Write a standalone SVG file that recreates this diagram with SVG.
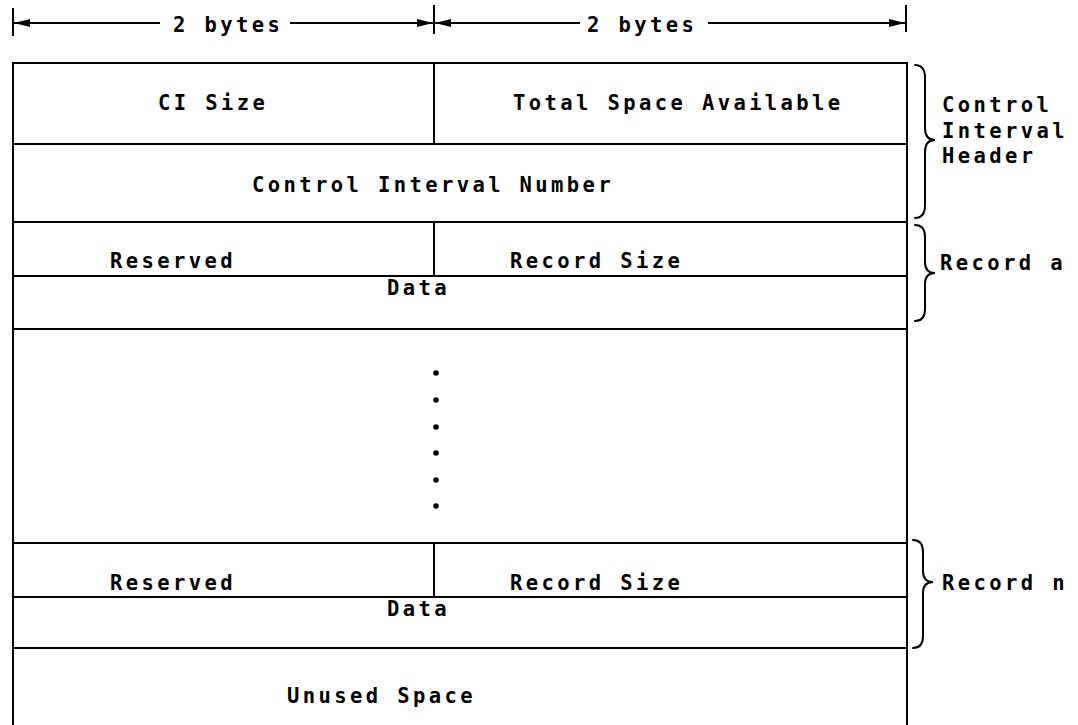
<svg xmlns="http://www.w3.org/2000/svg" width="1078" height="725" viewBox="0 0 1078 725">
  <defs>
    <marker id="arrow" viewBox="0 0 16 10" refX="16" refY="5" markerWidth="16" markerHeight="10" markerUnits="userSpaceOnUse" orient="auto-start-reverse">
      <path d="M0,1 L16,5 L0,9 Z" fill="#000"/>
    </marker>
    <style>
      .ln { stroke: #000; stroke-width: 2; fill: none; }
      .br { stroke: #000; stroke-width: 2; fill: none; stroke-linecap: round; }
      .dim { stroke: #000; stroke-width: 2; fill: none; }
      text { font-family: "DejaVu Sans Mono", "Liberation Mono", monospace; font-size: 20.5px; font-weight: bold; letter-spacing: 3.4px; fill: #000; }
      .dot { fill: #000; }
    </style>
  </defs>
  <rect width="1078" height="725" fill="#fff"/>

  <!-- width dimension across the two 2-byte fields -->
  <g id="dimension">
    <line class="dim" x1="13" y1="8" x2="13" y2="36"/>
    <line class="dim" x1="434" y1="5" x2="434" y2="34"/>
    <line class="dim" x1="906" y1="5" x2="906" y2="32"/>
    <line class="dim" x1="14" y1="23" x2="160" y2="23" marker-start="url(#arrow)"/>
    <line class="dim" x1="290" y1="23" x2="433" y2="23" marker-end="url(#arrow)"/>
    <line class="dim" x1="435" y1="23" x2="580" y2="23" marker-start="url(#arrow)"/>
    <line class="dim" x1="708" y1="23" x2="905" y2="23" marker-end="url(#arrow)"/>
    <text x="173" y="32">2 bytes</text>
    <text x="587" y="32">2 bytes</text>
  </g>

  <!-- outer frame and row separators -->
  <g id="frame">
    <path class="ln" d="M13,725 L13,63 L907,63 L907,725"/>
    <line class="ln" x1="13" y1="144" x2="907" y2="144"/>
    <line class="ln" x1="13" y1="222" x2="907" y2="222"/>
    <line class="ln" x1="13" y1="276" x2="907" y2="276"/>
    <line class="ln" x1="13" y1="329" x2="907" y2="329"/>
    <line class="ln" x1="13" y1="543" x2="907" y2="543"/>
    <line class="ln" x1="13" y1="597" x2="907" y2="597"/>
    <line class="ln" x1="13" y1="648" x2="907" y2="648"/>
    <line class="ln" x1="434" y1="63" x2="434" y2="144"/>
    <line class="ln" x1="434" y1="222" x2="434" y2="276"/>
    <line class="ln" x1="434" y1="543" x2="434" y2="597"/>
  </g>

  <g id="ci-size"><text x="158" y="110">CI Size</text></g>
  <g id="total-space"><text x="513" y="110">Total Space Available</text></g>
  <g id="ci-number"><text x="252" y="192">Control Interval Number</text></g>

  <g id="record-a">
    <text x="110" y="268">Reserved</text>
    <text x="510" y="268">Record Size</text>
    <text x="387" y="295">Data</text>
  </g>

  <!-- ellipsis between records -->
  <g id="ellipsis">
    <circle class="dot" cx="436" cy="373" r="2.8"/>
    <circle class="dot" cx="436" cy="400" r="2.8"/>
    <circle class="dot" cx="436" cy="427" r="2.8"/>
    <circle class="dot" cx="436" cy="453" r="2.8"/>
    <circle class="dot" cx="436" cy="480" r="2.8"/>
    <circle class="dot" cx="436" cy="506" r="2.8"/>
  </g>

  <g id="record-n">
    <text x="110" y="590">Reserved</text>
    <text x="510" y="590">Record Size</text>
    <text x="387" y="616">Data</text>
  </g>

  <g id="unused"><text x="287" y="703">Unused Space</text></g>

  <!-- braces and their labels -->
  <g id="header-brace">
    <path class="br" d="M915,65 Q925,65 925,78 L925,128 Q925,140 935,140 Q925,140 925,152 L925,205 Q925,218 915,218"/>
    <text x="942" y="112">Control</text>
    <text x="942" y="138">Interval</text>
    <text x="942" y="163">Header</text>
  </g>
  <g id="record-a-brace">
    <path class="br" d="M915,225 Q925,225 925,237 L925,262 Q925,273 935,273 Q925,273 925,284 L925,309 Q925,321 915,321"/>
    <text x="940" y="270">Record a</text>
  </g>
  <g id="record-n-brace">
    <path class="br" d="M913,540 Q923,540 923,552 L923,571 Q923,582 933,582 Q923,582 923,593 L923,636 Q923,648 913,648"/>
    <text x="942" y="590">Record n</text>
  </g>
</svg>
